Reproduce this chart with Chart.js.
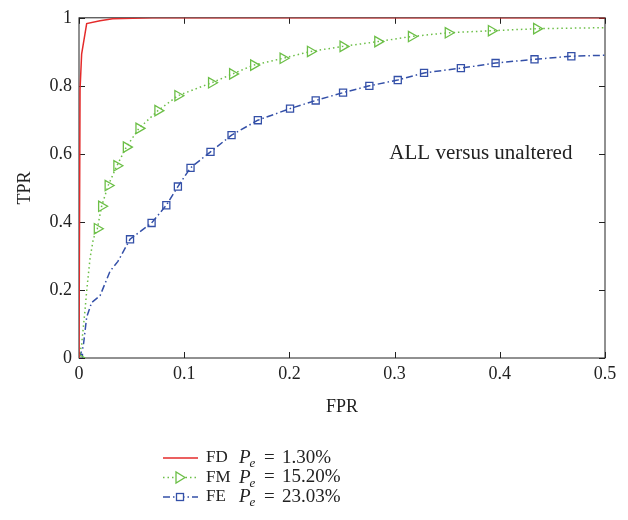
<!DOCTYPE html>
<html>
<head>
<meta charset="utf-8">
<script src="https://cdn.jsdelivr.net/npm/chart.js@4.4.0/dist/chart.umd.min.js"></script>
<style>
  html, body { margin: 0; padding: 0; background: #fff; }
  #wrap { width: 628px; height: 520px; }
</style>
</head>
<body>
<div id="wrap"><canvas id="roc" width="628" height="520"></canvas></div>
<script>
// ROC curves: FD, FM, FE
const fdFpr = [0, 0.001, 0.0025, 0.0073, 0.02, 0.032, 0.07, 0.5];
const fdTpr = [0, 0.79, 0.893, 0.983, 0.991, 0.997, 1, 1];

const fmFpr = [0, 0.0025, 0.0057, 0.0073, 0.0105, 0.0136, 0.0174, 0.0215, 0.0277, 0.036, 0.045, 0.057, 0.075, 0.094, 0.126, 0.146, 0.166, 0.194, 0.22, 0.251, 0.284, 0.316, 0.351, 0.392, 0.435, 0.5];
const fmTpr = [0, 0.04, 0.14, 0.197, 0.293, 0.35, 0.38, 0.446, 0.507, 0.565, 0.62, 0.675, 0.727, 0.771, 0.809, 0.835, 0.861, 0.881, 0.901, 0.916, 0.93, 0.945, 0.956, 0.962, 0.968, 0.971];
const fmMarkFpr = [0, 0.0174, 0.0215, 0.0277, 0.036, 0.045, 0.057, 0.075, 0.094, 0.126, 0.146, 0.166, 0.194, 0.22, 0.251, 0.284, 0.316, 0.351, 0.392, 0.435];
const fmMarkTpr = [0, 0.38, 0.446, 0.507, 0.565, 0.62, 0.675, 0.727, 0.771, 0.809, 0.835, 0.861, 0.881, 0.901, 0.916, 0.93, 0.945, 0.956, 0.962, 0.968];

const feFpr = [0, 0.004, 0.0073, 0.012, 0.02, 0.0295, 0.037, 0.0485, 0.069, 0.083, 0.094, 0.106, 0.125, 0.145, 0.17, 0.2006, 0.225, 0.251, 0.276, 0.303, 0.328, 0.363, 0.396, 0.433, 0.468, 0.5];
const feTpr = [0, 0.033, 0.12, 0.163, 0.183, 0.255, 0.284, 0.349, 0.397, 0.449, 0.504, 0.559, 0.606, 0.655, 0.699, 0.733, 0.757, 0.78, 0.8, 0.817, 0.838, 0.852, 0.867, 0.878, 0.887, 0.89];
const feMarkFpr = [0, 0.0485, 0.069, 0.083, 0.094, 0.106, 0.125, 0.145, 0.17, 0.2006, 0.225, 0.251, 0.276, 0.303, 0.328, 0.363, 0.396, 0.433, 0.468];
const feMarkTpr = [0, 0.349, 0.397, 0.449, 0.504, 0.559, 0.606, 0.655, 0.699, 0.733, 0.757, 0.78, 0.8, 0.817, 0.838, 0.852, 0.867, 0.878, 0.887];

const xTicks = [0, 0.1, 0.2, 0.3, 0.4, 0.5];
const yTicks = [0, 0.2, 0.4, 0.6, 0.8, 1];

const seriesNames = ['FD', 'FM', 'FE'];
const errorRates = ['1.30%', '15.20%', '23.03%'];
const caption = 'ALL versus unaltered';

const colors = { fd: '#e42b2b', fm: '#6cbf47', fe: '#3450a8', axis: '#222' };
const serif = '"Liberation Serif", "DejaVu Serif", serif';

const toPoints = (xs, ys) => xs.map((x, i) => ({ x: x, y: ys[i] }));

// box around the plot with inward ticks on all four sides
const frameTicks = {
  id: 'frameTicks',
  beforeDatasetsDraw(chart) {
    const { ctx, chartArea: a, scales } = chart;
    ctx.save();
    ctx.strokeStyle = colors.axis;
    ctx.lineWidth = 1;
    ctx.strokeRect(a.left, a.top, a.right - a.left, a.bottom - a.top);
    ctx.beginPath();
    xTicks.forEach(v => {
      const px = Math.round(scales.x.getPixelForValue(v)) + 0.5;
      ctx.moveTo(px, a.bottom); ctx.lineTo(px, a.bottom - 6);
      ctx.moveTo(px, a.top); ctx.lineTo(px, a.top + 6);
    });
    yTicks.forEach(v => {
      const py = Math.round(scales.y.getPixelForValue(v)) + 0.5;
      ctx.moveTo(a.left, py); ctx.lineTo(a.left + 6, py);
      ctx.moveTo(a.right, py); ctx.lineTo(a.right - 6, py);
    });
    ctx.stroke();
    ctx.restore();
  }
};

// text note inside the plot
const noteText = {
  id: 'noteText',
  afterDatasetsDraw(chart) {
    const { ctx, scales } = chart;
    ctx.save();
    ctx.font = '21px ' + serif;
    ctx.fillStyle = colors.axis;
    ctx.textAlign = 'left';
    ctx.textBaseline = 'middle';
    ctx.fillText(caption, scales.x.getPixelForValue(0.295), scales.y.getPixelForValue(0.6));
    ctx.restore();
  }
};

// stacked legend under the axes
const stackedLegend = {
  id: 'stackedLegend',
  afterDraw(chart) {
    const { ctx } = chart;
    const styles = [
      { color: colors.fd, dash: [], marker: null },
      { color: colors.fm, dash: [1.5, 3], marker: 'tri' },
      { color: colors.fe, dash: [7, 3, 1.5, 3], marker: 'sq' }
    ];
    const rowY = [458, 477.5, 497];
    ctx.save();
    seriesNames.forEach((name, i) => {
      const y = rowY[i];
      const s = styles[i];
      ctx.strokeStyle = s.color;
      ctx.lineWidth = 1.3;
      ctx.setLineDash(s.dash);
      ctx.beginPath();
      ctx.moveTo(163, y); ctx.lineTo(198, y);
      ctx.stroke();
      ctx.setLineDash([]);
      if (s.marker === 'tri') {
        ctx.beginPath();
        ctx.moveTo(185, y); ctx.lineTo(176, y - 5.5); ctx.lineTo(176, y + 5.5);
        ctx.closePath();
        ctx.fillStyle = '#fff'; ctx.fill(); ctx.stroke();
      } else if (s.marker === 'sq') {
        ctx.fillStyle = '#fff';
        ctx.fillRect(176.5, y - 3.5, 7, 7);
        ctx.strokeRect(176.5, y - 3.5, 7, 7);
      }
      ctx.fillStyle = colors.axis;
      ctx.textBaseline = 'middle';
      ctx.textAlign = 'left';
      ctx.font = '17px ' + serif;
      ctx.fillText(name, 206, y);
      ctx.font = 'italic 19px ' + serif;
      ctx.fillText('P', 239, y);
      const pw = ctx.measureText('P').width;
      ctx.font = 'italic 13px ' + serif;
      ctx.fillText('e', 239 + pw - 1, y + 6);
      ctx.font = '19px ' + serif;
      ctx.fillText('=', 264, y);
      ctx.fillText(errorRates[i], 282, y);
    });
    ctx.restore();
  }
};

new Chart(document.getElementById('roc'), {
  type: 'line',
  data: {
    datasets: [
      {
        label: seriesNames[0], data: toPoints(fdFpr, fdTpr),
        borderColor: colors.fd, borderWidth: 1.5, pointRadius: 0, tension: 0
      },
      {
        label: seriesNames[1], data: toPoints(fmFpr, fmTpr),
        borderColor: colors.fm, borderWidth: 1.5, borderDash: [1.5, 3], pointRadius: 0, tension: 0
      },
      {
        label: seriesNames[1] + ' markers', data: toPoints(fmMarkFpr, fmMarkTpr), showLine: false,
        pointStyle: 'triangle', pointRotation: 90, pointRadius: 6,
        pointBorderColor: colors.fm, pointBackgroundColor: 'rgba(0,0,0,0)', pointBorderWidth: 1.3
      },
      {
        label: seriesNames[2], data: toPoints(feFpr, feTpr),
        borderColor: colors.fe, borderWidth: 1.5, borderDash: [7, 3, 1.5, 3], pointRadius: 0, tension: 0
      },
      {
        label: seriesNames[2] + ' markers', data: toPoints(feMarkFpr, feMarkTpr), showLine: false,
        pointStyle: 'rect', pointRadius: 5,
        pointBorderColor: colors.fe, pointBackgroundColor: 'rgba(0,0,0,0)', pointBorderWidth: 1.3
      }
    ]
  },
  options: {
    responsive: false,
    animation: false,
    layout: { padding: { top: 13, left: 0, right: 23, bottom: 102 } },
    plugins: { legend: { display: false }, tooltip: { enabled: false } },
    scales: {
      x: {
        type: 'linear', min: 0, max: 0.5,
        afterBuildTicks: s => { s.ticks = xTicks.map(v => ({ value: v })); },
        afterFit: s => { s.height = 60; },
        grid: { display: false, drawTicks: false },
        border: { display: false },
        ticks: { color: colors.axis, font: { family: serif, size: 18 }, padding: 5, maxRotation: 0, callback: v => String(v) },
        title: { display: true, text: 'FPR', color: colors.axis, font: { family: serif, size: 18 }, padding: { top: 0, bottom: 0 } }
      },
      y: {
        type: 'linear', min: 0, max: 1,
        afterBuildTicks: s => { s.ticks = yTicks.map(v => ({ value: v })); },
        afterFit: s => { s.width = 79; },
        grid: { display: false, drawTicks: false },
        border: { display: false },
        ticks: { color: colors.axis, font: { family: serif, size: 18 }, padding: 7, callback: v => String(v) },
        title: { display: true, text: 'TPR', color: colors.axis, font: { family: serif, size: 18 }, padding: { top: 14, bottom: 0 } }
      }
    }
  },
  plugins: [frameTicks, noteText, stackedLegend]
});
</script>
</body>
</html>
